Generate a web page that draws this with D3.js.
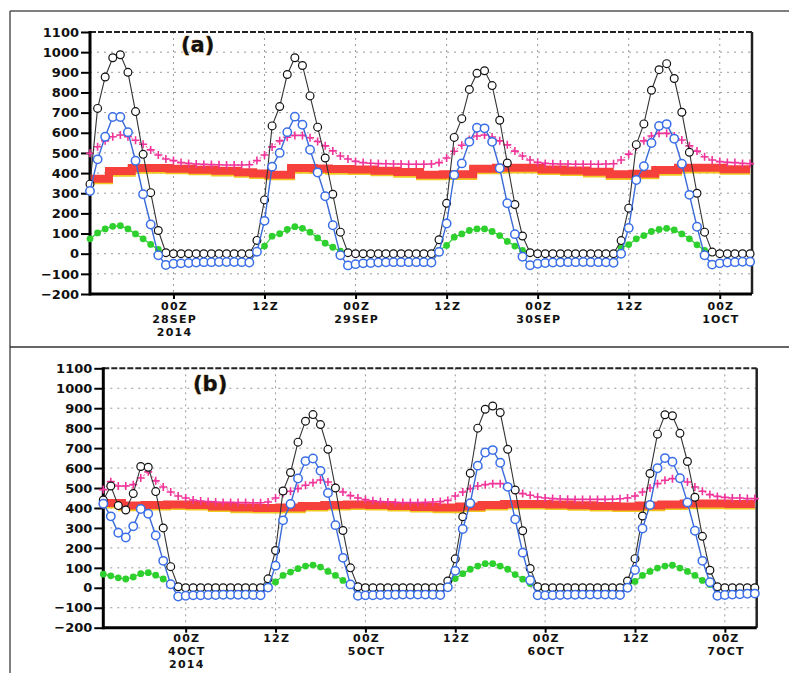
<!DOCTYPE html>
<html><head><meta charset="utf-8">
<script src="https://cdn.jsdelivr.net/npm/d3@7/dist/d3.min.js"></script>
<style>
body{margin:0;background:#fff;}
svg{display:block;}
text{font-family:"DejaVu Sans",Verdana,sans-serif;font-weight:bold;fill:#111;}
</style></head><body>
<svg id="chart" width="789" height="673"></svg>
<script>
// hourly categories: hour offset from 00Z of the first labelled date
const hours = d3.range(-11, 77);
const yTicks = [-200,-100,0,100,200,300,400,500,600,700,800,900,1000,1100];
const xTicks = [0,12,24,36,48,60,72];
const xLabelsA = [["00Z","28SEP","2014"],["12Z"],["00Z","29SEP"],["12Z"],["00Z","30SEP"],["12Z"],["00Z","1OCT"]];
const xLabelsB = [["00Z","4OCT","2014"],["12Z"],["00Z","5OCT"],["12Z"],["00Z","6OCT"],["12Z"],["00Z","7OCT"]];
const panelTitles = ["(a)","(b)"];

// ---------- panel (a) ----------
const blackA = [345,721,877,972,987,900,705,493,303,115,5,
0,0,0,0,0,0,0,0,0,0,0,
66,267,634,730,889,972,934,783,628,475,295,107,5,
0,0,0,0,0,0,0,0,0,0,0,
69,250,577,670,815,895,908,834,662,450,244,88,5,
0,0,0,0,0,0,0,0,0,0,0,
65,226,541,644,811,913,943,869,702,503,300,107,8,
0,0,0,0,0];
const blueA = [311,468,580,678,678,603,461,295,145,-8,-56,
-50,-48,-46,-44,-42,-42,-41,-41,-41,-42,-44,
10,163,432,500,603,680,640,516,403,285,141,-8,-58,
-52,-48,-46,-44,-43,-42,-42,-42,-42,-42,-44,
9,150,391,448,555,625,622,555,424,250,97,-15,-57,
-50,-46,-44,-43,-42,-42,-41,-42,-42,-43,-45,
0,128,366,434,549,634,643,570,446,292,134,-8,-54,
-48,-44,-42,-40,-40];
const pinkA = [498,531,560,580,589,580,563,543,515,490,470,
462,452,448,445,443,442,441,440,440,440,441,
462,490,530,560,578,587,587,575,557,535,510,485,470,
458,452,449,447,446,445,445,444,444,444,445,
452,475,508,538,567,584,589,579,560,540,509,485,465,
453,448,446,445,445,444,444,444,444,445,446,
465,494,531,560,584,597,597,584,564,535,509,481,465,
457,453,452,448,447];
const redA = [372,372,372,410,410,410,425,425,425,425,425,
422,422,422,417,417,417,411,411,411,404,404,
398,398,392,392,392,425,425,425,423,423,420,420,420,
418,418,418,412,412,412,405,405,405,392,392,
392,394,394,394,394,422,422,422,426,426,426,426,426,
426,418,418,418,413,413,413,406,406,406,394,
394,394,397,397,397,415,415,415,426,426,426,426,426,
426,419,419,419,419];
const greenA = [74,103,123,136,139,123,98,74,46,21,5,
0,0,0,0,0,0,0,0,0,0,0,
8,38,87,99,120,134,126,107,78,52,32,12,3,
0,0,0,0,0,0,0,0,0,0,0,
16,41,82,98,115,123,123,110,90,61,38,16,4,
0,0,0,0,0,0,0,0,0,0,0,
28,45,74,90,110,120,126,118,98,74,44,16,4,
0,0,0,0,0];

// ---------- panel (b) ----------
const blackB = [440,510,412,390,472,608,604,482,300,106,5,
0,0,0,0,0,0,0,0,0,0,0,
45,187,485,578,730,835,868,818,694,500,287,100,5,
0,0,0,0,0,0,0,0,0,0,0,
34,145,356,574,800,895,911,878,694,490,286,97,5,
0,0,0,0,0,0,0,0,0,0,0,
34,146,360,573,770,867,862,774,633,454,258,88,5,
0,0,0,0,0];
const blueB = [421,358,276,252,308,395,371,262,135,18,-44,
-40,-38,-37,-36,-36,-35,-35,-35,-35,-36,-37,
1,111,338,420,548,635,648,586,475,314,150,17,-40,
-38,-37,-36,-35,-35,-34,-34,-34,-34,-35,-36,
3,85,295,424,612,678,690,627,506,343,176,38,-37,
-38,-37,-36,-35,-35,-34,-34,-34,-34,-35,-36,
0,89,297,415,599,650,632,549,428,286,135,28,-40,
-36,-34,-32,-30,-29];
const pinkB = [492,532,510,510,517,550,581,536,505,480,460,
450,440,435,432,430,428,428,427,427,426,426,
430,450,472,484,497,514,527,540,530,505,480,462,450,
442,436,432,430,428,427,427,427,428,430,432,
438,460,480,497,510,517,522,522,510,489,472,464,455,
450,447,445,444,443,443,443,443,443,444,446,
450,460,480,500,522,539,547,547,530,505,484,467,458,
453,450,450,447,447];
const redB = [425,425,425,412,412,412,415,415,415,418,418,
418,415,415,415,408,408,408,402,402,402,400,
400,400,402,402,402,410,410,410,415,415,415,418,418,
418,415,415,415,410,410,410,405,405,405,402,
402,402,408,408,408,415,415,415,420,420,420,420,420,
420,418,418,418,414,414,414,410,410,410,408,
408,408,412,412,412,418,418,418,422,422,422,422,422,
422,420,420,420,420];
const greenB = [68,60,50,44,54,71,76,63,44,21,5,
0,0,0,0,0,0,0,0,0,0,0,
10,29,62,79,96,109,114,104,82,62,37,19,4,
0,0,0,0,0,0,0,0,0,0,0,
16,46,71,93,109,121,121,109,93,66,43,21,4,
0,0,0,0,0,0,0,0,0,0,0,
12,32,62,82,99,109,113,99,82,62,37,16,4,
0,0,0,0,0];

const svg = d3.select("#chart");

// outer frame lines
svg.append("line").attr("x1",10).attr("y1",11).attr("x2",10).attr("y2",673).attr("stroke","#555").attr("stroke-width",1.5);
svg.append("line").attr("x1",10).attr("y1",11).attr("x2",789).attr("y2",11).attr("stroke","#555").attr("stroke-width",1.5);
svg.append("line").attr("x1",10).attr("y1",347).attr("x2",789).attr("y2",347).attr("stroke","#333").attr("stroke-width",1.5);

const panels = [
  {x0:90, x1:752, yT:32, yB:294, labels:xLabelsA, lb:[16,29,42], title:panelTitles[0], tx:181, ty:52,
   black:blackA, blue:blueA, pink:pinkA, red:redA, green:greenA},
  {x0:103.3, x1:756.7, yT:368.3, yB:627.7, labels:xLabelsB, lb:[14,27.3,40.6], title:panelTitles[1], tx:193, ty:391,
   black:blackB, blue:blueB, pink:pinkB, red:redB, green:greenB}
];

panels.forEach(p => {
  const x = d3.scaleLinear().domain([-11, 76.25]).range([p.x0, p.x1]);
  const y = d3.scaleLinear().domain([-200, 1100]).range([p.yB, p.yT]);
  const g = svg.append("g");

  // grid
  g.append("g").selectAll("line").data(yTicks.filter(v => v > -200 && v < 1100)).join("line")
    .attr("x1", p.x0).attr("x2", p.x1).attr("y1", d => y(d)).attr("y2", d => y(d))
    .attr("stroke", "#999").attr("stroke-width", 1).attr("stroke-dasharray", "2,5");
  g.append("g").selectAll("line").data(xTicks).join("line")
    .attr("x1", d => x(d)).attr("x2", d => x(d)).attr("y1", p.yT).attr("y2", p.yB)
    .attr("stroke", "#999").attr("stroke-width", 1).attr("stroke-dasharray", "2,4");

  // y axis
  const ya = g.append("g").attr("transform", `translate(${p.x0},0)`)
    .call(d3.axisLeft(y).tickValues(yTicks).tickSize(9).tickPadding(2)
      .tickFormat(d => d < 0 ? "\u2212" + Math.abs(d) : String(d)));
  ya.select(".domain").remove();
  ya.selectAll(".tick line").attr("stroke", "#000").attr("stroke-width", 2);
  ya.selectAll(".tick text").attr("font-size", 13).attr("font-family", "DejaVu Sans").attr("font-weight", "bold").attr("fill", "#111");

  // x axis
  const xa = g.append("g").attr("transform", `translate(0,${p.yB})`)
    .call(d3.axisBottom(x).tickValues(xTicks).tickSize(5).tickFormat(""));
  xa.select(".domain").remove();
  xa.selectAll(".tick text").remove();
  xa.selectAll(".tick line").attr("stroke", "#000").attr("stroke-width", 2);
  xa.selectAll(".tick").each(function(d, i) {
    p.labels[i].forEach((s, k) => {
      d3.select(this).append("text").attr("text-anchor", "middle")
        .attr("font-size", 11).attr("letter-spacing", 1.2).attr("fill", "#111")
        .attr("x", 0.6).attr("y", p.lb[k]).text(s);
    });
  });

  // frame
  g.append("line").attr("x1", p.x0).attr("x2", p.x1).attr("y1", p.yT).attr("y2", p.yT)
    .attr("stroke", "#222").attr("stroke-width", 2).attr("stroke-dasharray", "6,2");
  g.append("line").attr("x1", p.x1).attr("x2", p.x1).attr("y1", p.yT).attr("y2", p.yB)
    .attr("stroke", "#222").attr("stroke-width", 2.5);
  g.append("line").attr("x1", p.x0).attr("x2", p.x1).attr("y1", p.yB).attr("y2", p.yB)
    .attr("stroke", "#000").attr("stroke-width", 3);
  g.append("line").attr("x1", p.x0).attr("x2", p.x0).attr("y1", p.yT - 1).attr("y2", p.yB + 1.5)
    .attr("stroke", "#000").attr("stroke-width", 3);

  const line = d3.line().x((d, i) => x(hours[i])).y(d => y(d));
  const stepLine = d3.line().x((d, i) => x(hours[i])).y(d => y(d)).curve(d3.curveStep);

  // red step band with yellow edge
  g.append("path").datum(p.red).attr("d", stepLine).attr("fill", "none")
    .attr("stroke", "#f0c820").attr("stroke-width", 8).attr("transform", "translate(0,1.6)");
  g.append("path").datum(p.red).attr("d", stepLine).attr("fill", "none")
    .attr("stroke", "#f5403c").attr("stroke-width", 8);

  // pink +
  g.append("path").datum(p.pink).attr("d", line).attr("fill", "none")
    .attr("stroke", "#f0449e").attr("stroke-width", 1).attr("stroke-dasharray", "2,2");
  g.append("g").selectAll("path").data(p.pink).join("path")
    .attr("transform", (d, i) => `translate(${x(hours[i])},${y(d)})`)
    .attr("d", "M-4,0H4M0,-4V4").attr("stroke", "#f0349a").attr("stroke-width", 1.6).attr("fill", "none");

  // green dots
  g.append("path").datum(p.green).attr("d", line).attr("fill", "none")
    .attr("stroke", "#30cc30").attr("stroke-width", 1.2);
  g.append("g").selectAll("circle").data(p.green).join("circle")
    .attr("cx", (d, i) => x(hours[i])).attr("cy", d => y(d)).attr("r", 3.4).attr("fill", "#2ed02e");

  // black open circles
  g.append("path").datum(p.black).attr("d", line).attr("fill", "none")
    .attr("stroke", "#333").attr("stroke-width", 1.1);
  g.append("g").selectAll("circle").data(p.black).join("circle")
    .attr("cx", (d, i) => x(hours[i])).attr("cy", d => y(d)).attr("r", 3.9)
    .attr("fill", "#fff").attr("stroke", "#111").attr("stroke-width", 1.2);

  // blue open circles
  g.append("path").datum(p.blue).attr("d", line).attr("fill", "none")
    .attr("stroke", "#3a6ad8").attr("stroke-width", 1.4);
  g.append("g").selectAll("circle").data(p.blue).join("circle")
    .attr("cx", (d, i) => x(hours[i])).attr("cy", d => y(d)).attr("r", 4.2)
    .attr("fill", "#fff").attr("stroke", "#3a6ee8").attr("stroke-width", 1.5);

  // panel title
  g.append("text").attr("x", p.tx).attr("y", p.ty).attr("font-size", 21)
    .attr("fill", "#1a1a2e").attr("stroke", "#b07a2a").attr("stroke-width", 0.6)
    .attr("paint-order", "stroke").text(p.title);
});
</script>
</body></html>
